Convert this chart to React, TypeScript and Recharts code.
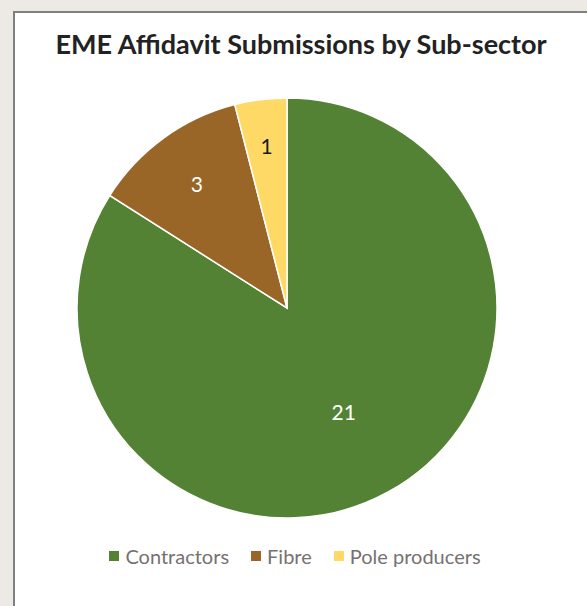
import { PieChart, Pie, Cell, Legend } from 'recharts';

const categories = ['Contractors', 'Fibre', 'Pole producers'];
const submissions = [21, 3, 1];

const COLORS = ['#548235', '#9a6628', '#ffd966'];
const LABEL_COLORS = ['#ffffff', '#ffffff', '#1a1a1a'];
// radius fraction for each data label (Excel "best fit" placement)
const LABEL_RADIUS = [0.56, 0.73, 0.78];

const chartData = categories.map((name, i) => ({ name, value: submissions[i] }));

const RAD = Math.PI / 180;

const renderLabel = (props: any) => {
    const { cx, cy, midAngle, outerRadius, index, value } = props;
    const r = outerRadius * LABEL_RADIUS[index];
    const x = cx + r * Math.cos(-midAngle * RAD);
    const y = cy + r * Math.sin(-midAngle * RAD);
    return (
        <text
            x={x}
            y={y}
            fill={LABEL_COLORS[index]}
            textAnchor="middle"
            dominantBaseline="central"
            style={{ fontFamily: 'Lato, sans-serif', fontSize: 21 }}
        >
            {value}
        </text>
    );
};

const LegendContent = () => (
    <div style={{ display: 'flex', justifyContent: 'center', alignItems: 'center', gap: 22, fontFamily: 'Lato, sans-serif', fontSize: 20, color: '#767171' }}>
        {categories.map((c, i) => (
            <div key={c} style={{ display: 'flex', alignItems: 'center' }}>
                <span style={{ width: 10, height: 10, background: COLORS[i], marginRight: 6, display: 'inline-block' }} />
                <span>{c}</span>
            </div>
        ))}
    </div>
);

export default function App() {
    return (
        <div style={{ position: 'absolute', left: 0, top: 0, width: 587, height: 606, overflow: 'hidden', background: '#edeae5' }}>
            <div style={{ position: 'absolute', left: 13, top: 11, width: 600, height: 620, background: '#ffffff', border: '2px solid #7f7f7f' }} />
            <div style={{ position: 'absolute', left: 0, top: 0 }}>
                <PieChart width={587} height={606} margin={{ top: 0, right: 0, bottom: 0, left: 0 }}>
                    <Pie
                        data={chartData}
                        dataKey="value"
                        nameKey="name"
                        cx={287}
                        cy={308}
                        outerRadius={210}
                        startAngle={90}
                        endAngle={-270}
                        stroke="#ffffff"
                        strokeWidth={1.5}
                        label={renderLabel}
                        labelLine={false}
                        isAnimationActive={false}
                    >
                        {chartData.map((entry, index) => (
                            <Cell key={`cell-${index}`} fill={COLORS[index]} />
                        ))}
                    </Pie>
                    <Legend
                        content={<LegendContent />}
                        wrapperStyle={{ position: 'absolute', left: 0, top: 544, width: 590 }}
                    />
                </PieChart>
            </div>
            <div style={{ position: 'absolute', left: 0, top: 27, width: 602, textAlign: 'center', fontFamily: 'Lato, sans-serif', fontWeight: 700, fontSize: 27, color: '#222222' }}>
                EME Affidavit Submissions by Sub-sector
            </div>
        </div>
    );
}
